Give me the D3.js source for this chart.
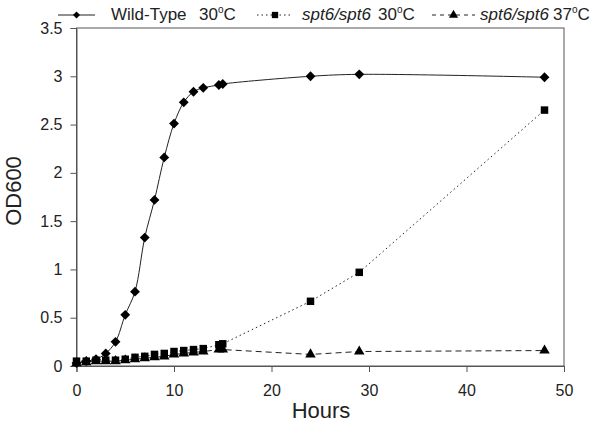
<!DOCTYPE html>
<html><head><meta charset="utf-8">
<script src="https://cdn.jsdelivr.net/npm/d3@7/dist/d3.min.js"></script>
<style>body{margin:0;background:#fff}svg{display:block;font-family:Arial,"Liberation Sans",sans-serif}</style>
</head><body>
<svg id="c" width="600" height="424"></svg>
<script>
const wtHours = [0,1,2,3,4,5,6,7,8,9,10,11,12,13,14.6,15,24,29,48];
const wtOD    = [0.03,0.05,0.07,0.13,0.25,0.53,0.77,1.33,1.72,2.16,2.51,2.73,2.84,2.88,2.91,2.92,3.00,3.02,2.99];
const m30Hours = [0,1,2,3,4,5,6,7,8,9,10,11,12,13,14.6,15,24,29,48];
const m30OD    = [0.05,0.05,0.06,0.06,0.06,0.07,0.09,0.10,0.12,0.13,0.15,0.16,0.17,0.18,0.22,0.23,0.67,0.97,2.65];
const m37Hours = [0,1,2,3,4,5,6,7,8,9,10,11,12,13,14.6,15,24,29,48];
const m37OD    = [0.03,0.04,0.05,0.05,0.05,0.06,0.07,0.08,0.09,0.10,0.12,0.13,0.14,0.15,0.17,0.17,0.12,0.15,0.16];
const xTicks = [0,10,20,30,40,50];
const yTicks = [0,0.5,1,1.5,2,2.5,3,3.5];

const svg = d3.select("#c");
const L=76.5,R=564,T=28,B=366;
const x = d3.scaleLinear().domain([0,50]).range([L,R]);
const y = d3.scaleLinear().domain([0,3.5]).range([B,T]);
const ink = "#222";
const diamond = d3.symbolDiamond2 || d3.symbolDiamond;

svg.append("rect").attr("x",L).attr("y",T).attr("width",R-L).attr("height",B-T)
  .attr("fill","none").attr("stroke","#555").attr("stroke-width",1);

const xa = svg.append("g").attr("transform",`translate(0,${B})`)
  .call(d3.axisBottom(x).tickValues(xTicks).tickSize(6).tickPadding(13).tickFormat(d3.format("d")));
const ya = svg.append("g").attr("transform",`translate(${L},0)`)
  .call(d3.axisLeft(y).tickValues(yTicks).tickSize(6).tickPadding(8).tickFormat(d=>String(d)));
[xa,ya].forEach(g=>{
  g.select(".domain").attr("stroke","#555");
  g.selectAll(".tick line").attr("stroke","#555");
  g.selectAll("text").attr("font-size",16).attr("fill",ink).attr("font-family","Arial, 'Liberation Sans', sans-serif");
});

svg.append("text").attr("x",321).attr("y",418).attr("text-anchor","middle")
  .attr("font-size",22).attr("fill",ink).text("Hours");
svg.append("text").attr("transform","translate(21,191) rotate(-90)").attr("text-anchor","middle")
  .attr("font-size",22).attr("fill",ink).text("OD600");

const series = [
  {h:wtHours, v:wtOD, dash:null, sym:diamond, size:62, curve:d3.curveCatmullRom},
  {h:m30Hours, v:m30OD, dash:"1.5,3", sym:d3.symbolSquare, size:56, curve:d3.curveLinear},
  {h:m37Hours, v:m37OD, dash:"6,4", sym:d3.symbolTriangle, size:48, curve:d3.curveLinear}
];
series.forEach(s=>{
  const pts = s.h.map((h,i)=>[h,s.v[i]]);
  svg.append("path").datum(pts)
    .attr("d", d3.line().x(d=>x(d[0])).y(d=>y(d[1])).curve(s.curve))
    .attr("fill","none").attr("stroke","#222").attr("stroke-width",1)
    .attr("stroke-dasharray", s.dash);
});
[series[2],series[1],series[0]].forEach(s=>{
  svg.append("g").selectAll("path").data(s.h.map((h,i)=>[h,s.v[i]])).join("path")
    .attr("transform",d=>`translate(${x(d[0])},${y(d[1])})`)
    .attr("d", d3.symbol().type(s.sym).size(s.size)).attr("fill","#000");
});

// legend
const LY=15, TY=20;
const items = [
  {x1:58,x2:95,dash:null,sym:diamond,size:32,name:"Wild-Type",it:false,nx:111,tx:199,temp:"30"},
  {x1:257,x2:293,dash:"1.5,3",sym:d3.symbolSquare,size:40,name:"spt6/spt6",it:true,nx:302,tx:378,temp:"30"},
  {x1:432,x2:475,dash:"4,4",sym:d3.symbolTriangle,size:36,name:"spt6/spt6",it:true,nx:480,tx:553,temp:"37"}
];
items.forEach(it=>{
  svg.append("line").attr("x1",it.x1).attr("x2",it.x2).attr("y1",LY).attr("y2",LY)
    .attr("stroke","#222").attr("stroke-width",1).attr("stroke-dasharray",it.dash);
  svg.append("path").attr("transform",`translate(${(it.x1+it.x2)/2},${LY})`)
    .attr("d",d3.symbol().type(it.sym).size(it.size)).attr("fill","#000");
  svg.append("text").attr("x",it.nx).attr("y",TY).attr("font-size",17).attr("fill",ink)
    .attr("font-style",it.it?"italic":"normal").text(it.name);
  const t = svg.append("text").attr("x",it.tx).attr("y",TY).attr("font-size",17).attr("fill",ink);
  t.append("tspan").text(it.temp);
  t.append("tspan").attr("font-size",10).attr("dy",-7).text("o");
  t.append("tspan").attr("dy",7).text("C");
});
</script>
</body></html>
